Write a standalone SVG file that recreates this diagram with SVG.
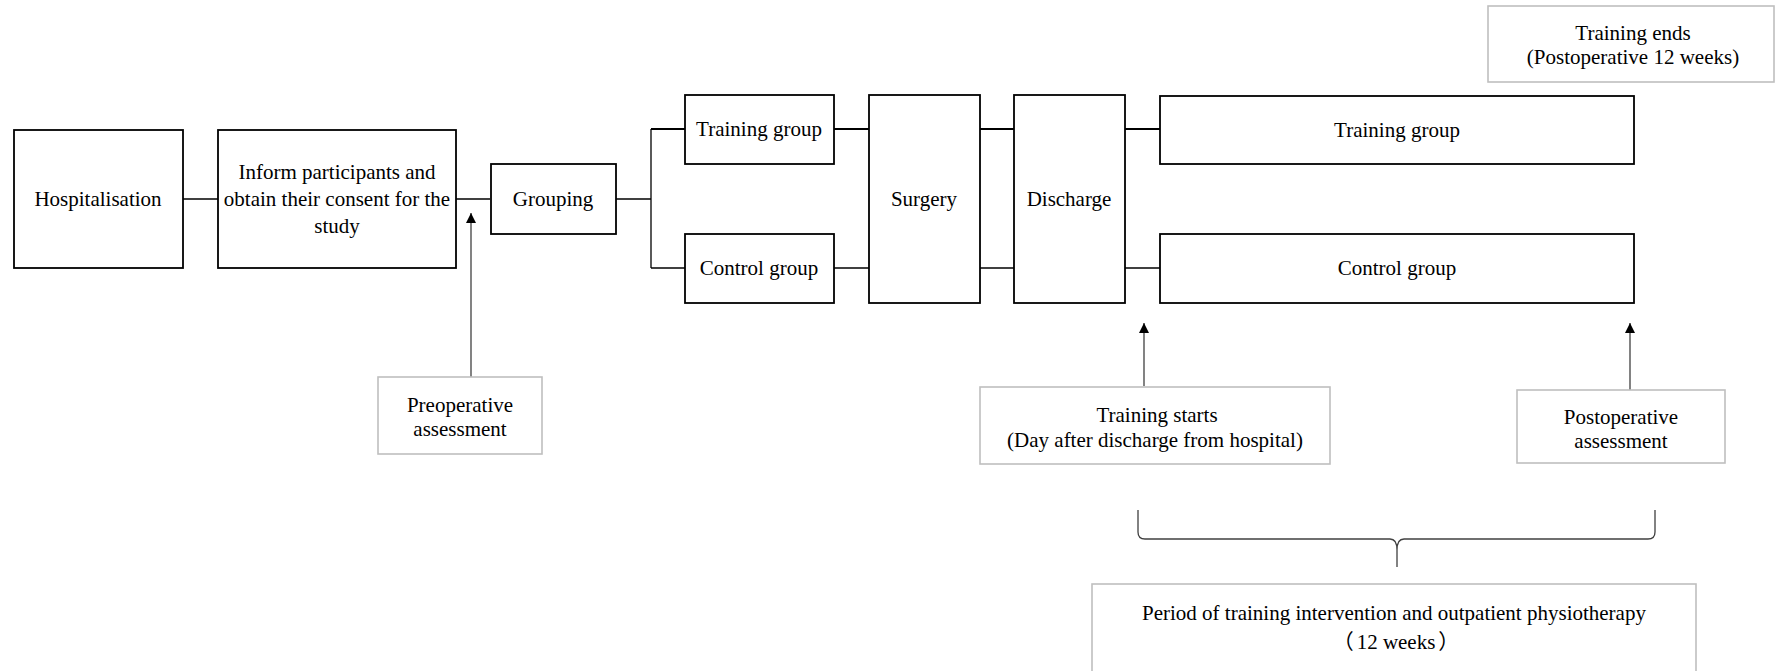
<svg xmlns="http://www.w3.org/2000/svg" width="1775" height="671" viewBox="0 0 1775 671">
<style>
.box{fill:#fff;stroke:#000;stroke-width:1.8}
.gbox{fill:#fff;stroke:#bfbfbf;stroke-width:1.6}
.t{font-family:"Liberation Serif","Times New Roman",serif;font-size:21px;fill:#000;text-anchor:middle;dominant-baseline:central}
.tc{font-family:"Liberation Serif","Noto Sans CJK SC",serif;font-size:21px;fill:#000;text-anchor:middle;dominant-baseline:central}
.ln{fill:none;stroke:#000;stroke-width:1.3}
.lt{fill:none;stroke:#000;stroke-width:2}
.arr{stroke:#404040;stroke-width:1.3;marker-end:url(#tri)}
.brace{fill:none;stroke:#404040;stroke-width:1.3}
</style>
<defs>
<marker id="tri" viewBox="0 0 10 10" refX="10" refY="5" markerWidth="11" markerHeight="10" markerUnits="userSpaceOnUse" orient="auto">
<path d="M0,0 L10,5 L0,10 Z" fill="#000"/>
</marker>
</defs>
<rect width="1775" height="671" fill="#fff"/>
<g id="connectors">
<line class="ln" x1="183" y1="199" x2="218" y2="199"/>
<line class="ln" x1="456" y1="199" x2="490" y2="199"/>
<line class="ln" x1="616" y1="199" x2="651" y2="199"/>
<line class="ln" x1="651" y1="129" x2="651" y2="268"/>
<line class="lt" x1="651" y1="129" x2="685" y2="129"/>
<line class="ln" x1="651" y1="268" x2="685" y2="268"/>
<line class="lt" x1="834" y1="129" x2="869" y2="129"/>
<line class="ln" x1="834" y1="268" x2="869" y2="268"/>
<line class="lt" x1="980" y1="129" x2="1014" y2="129"/>
<line class="ln" x1="980" y1="268" x2="1014" y2="268"/>
<line class="lt" x1="1125" y1="129" x2="1160" y2="129"/>
<line class="ln" x1="1125" y1="268" x2="1160" y2="268"/>
<line class="arr" x1="471" y1="377" x2="471" y2="213"/>
<line class="arr" x1="1144" y1="386" x2="1144" y2="323"/>
<line class="arr" x1="1630" y1="390" x2="1630" y2="323"/>
<path class="brace" d="M1138,510 L1138,532 Q1138,539 1145,539 L1390,539 Q1397,539 1397,550 L1397,567 M1397,550 Q1397,539 1404,539 L1648,539 Q1655,539 1655,532 L1655,510"/>
</g>
<g id="hospitalisation">
<rect class="box" x="14" y="130" width="169" height="138"/>
<text class="t" x="98" y="199">Hospitalisation</text>
</g>
<g id="inform">
<rect class="box" x="218" y="130" width="238" height="138"/>
<text class="t" x="337" y="172">Inform participants and</text>
<text class="t" x="337" y="199">obtain their consent for the</text>
<text class="t" x="337" y="226">study</text>
</g>
<g id="grouping">
<rect class="box" x="491" y="164" width="125" height="70"/>
<text class="t" x="553" y="199">Grouping</text>
</g>
<g id="training-small">
<rect class="box" x="685" y="95" width="149" height="69"/>
<text class="t" x="759" y="129">Training group</text>
</g>
<g id="control-small">
<rect class="box" x="685" y="234" width="149" height="69"/>
<text class="t" x="759" y="268">Control group</text>
</g>
<g id="surgery">
<rect class="box" x="869" y="95" width="111" height="208"/>
<text class="t" x="924" y="199">Surgery</text>
</g>
<g id="discharge">
<rect class="box" x="1014" y="95" width="111" height="208"/>
<text class="t" x="1069" y="199">Discharge</text>
</g>
<g id="training-big">
<rect class="box" x="1160" y="96" width="474" height="68"/>
<text class="t" x="1397" y="130">Training group</text>
</g>
<g id="control-big">
<rect class="box" x="1160" y="234" width="474" height="69"/>
<text class="t" x="1397" y="268">Control group</text>
</g>
<g id="training-ends">
<rect class="gbox" x="1488" y="6" width="286" height="76"/>
<text class="t" x="1633" y="33">Training ends</text>
<text class="t" x="1633" y="57">(Postoperative 12 weeks)</text>
</g>
<g id="preoperative">
<rect class="gbox" x="378" y="377" width="164" height="77"/>
<text class="t" x="460" y="405">Preoperative</text>
<text class="t" x="460" y="429">assessment</text>
</g>
<g id="training-starts">
<rect class="gbox" x="980" y="387" width="350" height="77"/>
<text class="t" x="1157" y="415">Training starts</text>
<text class="t" x="1155" y="440">(Day after discharge from hospital)</text>
</g>
<g id="postoperative">
<rect class="gbox" x="1517" y="390" width="208" height="73"/>
<text class="t" x="1621" y="417">Postoperative</text>
<text class="t" x="1621" y="441">assessment</text>
</g>
<g id="period">
<rect class="gbox" x="1092" y="584" width="604" height="100"/>
<text class="t" x="1394" y="613">Period of training intervention and outpatient physiotherapy</text>
<text class="tc" x="1396" y="642">（<tspan dx="3">12 weeks</tspan><tspan dx="3">）</tspan></text>
</g>
</svg>
